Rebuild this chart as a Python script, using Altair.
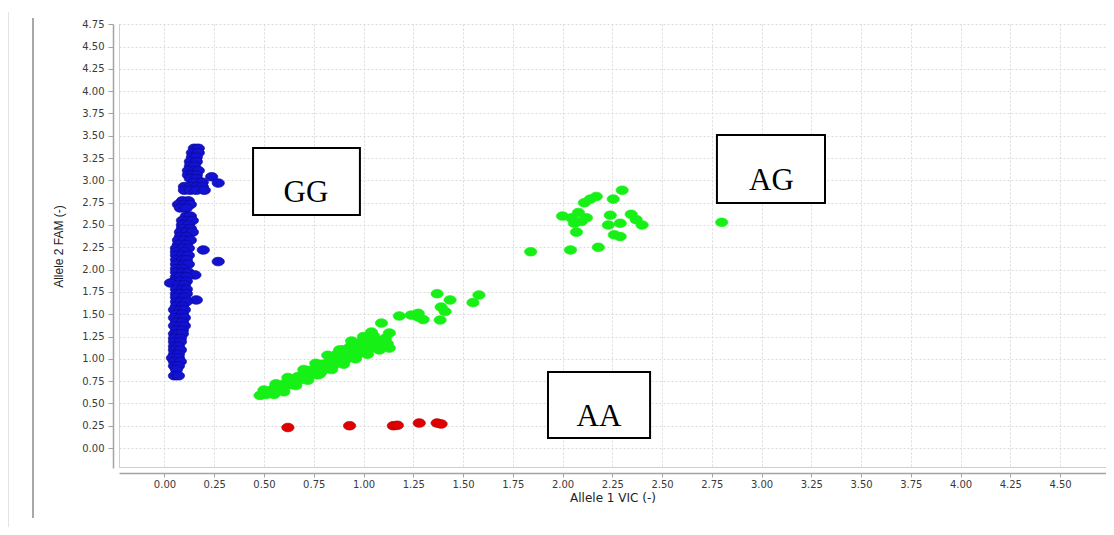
import altair as alt
import pandas as pd

# ---------------- data ----------------
# GG cluster (blue): rows of (Allele 2 FAM value, [Allele 1 VIC values])
gg_rows = [
    (3.36, [0.15, 0.17]), (3.31, [0.14, 0.17]), (3.26, [0.14, 0.16]),
    (3.21, [0.13, 0.16]), (3.16, [0.13, 0.15]), (3.11, [0.12, 0.15, 0.17]),
    (3.06, [0.12, 0.14, 0.16]), (3.02, [0.13, 0.16]), (3.04, [0.237]),
    (2.97, [0.27]), (2.98, [0.15, 0.19]), (2.93, [0.10, 0.13, 0.16, 0.19]),
    (2.89, [0.10, 0.13, 0.16, 0.20]), (2.77, [0.09, 0.12]),
    (2.73, [0.07, 0.10, 0.13]), (2.69, [0.08, 0.11]), (2.60, [0.11, 0.13]),
    (2.55, [0.09, 0.12, 0.14]), (2.50, [0.09, 0.12]), (2.46, [0.09, 0.13]),
    (2.42, [0.08, 0.11, 0.14]), (2.37, [0.08, 0.11]), (2.33, [0.07, 0.10, 0.13]),
    (2.28, [0.07, 0.11]), (2.24, [0.06, 0.09, 0.12]), (2.22, [0.195]),
    (2.20, [0.06, 0.10]), (2.16, [0.06, 0.09, 0.12]), (2.11, [0.06, 0.09, 0.11]),
    (2.09, [0.27]), (2.06, [0.06, 0.10, 0.12]), (2.01, [0.06, 0.09]),
    (1.97, [0.06, 0.09, 0.12]), (1.94, [0.153]), (1.92, [0.06, 0.08, 0.11]),
    (1.87, [0.05, 0.08, 0.11]), (1.85, [0.03]), (1.83, [0.07, 0.10]),
    (1.78, [0.06, 0.09, 0.11]), (1.73, [0.06, 0.08, 0.11]), (1.69, [0.06, 0.10]),
    (1.66, [0.16]), (1.64, [0.06, 0.08, 0.11]), (1.59, [0.06, 0.09]),
    (1.55, [0.05, 0.08, 0.10]), (1.50, [0.06, 0.09]), (1.46, [0.05, 0.08, 0.10]),
    (1.41, [0.06, 0.09]), (1.37, [0.05, 0.08, 0.10]), (1.32, [0.06, 0.09]),
    (1.28, [0.05, 0.07, 0.09]), (1.23, [0.05, 0.08]), (1.19, [0.05, 0.08]),
    (1.14, [0.05, 0.07]), (1.10, [0.05, 0.08]), (1.05, [0.05, 0.07]),
    (1.01, [0.04, 0.07]), (0.97, [0.05, 0.08]), (0.92, [0.05, 0.07]),
    (0.88, [0.06]), (0.81, [0.05, 0.07]),
]

# heterozygous / green cluster
green_x = [0.48, 0.51, 0.50, 0.53, 0.55, 0.57, 0.58, 0.60, 0.61, 0.63, 0.64, 0.66,
           0.67, 0.69, 0.70, 0.72, 0.73, 0.75, 0.77, 0.77, 0.79, 0.80, 0.82, 0.83,
           0.85, 0.86, 0.87, 0.88, 0.89, 0.90, 0.91, 0.92, 0.93, 0.94, 0.95, 0.96,
           0.97, 0.98, 0.99, 1.00, 1.01, 1.02, 1.03, 1.04, 1.05, 1.06, 1.07, 1.09,
           1.09, 1.11, 1.12, 1.13, 1.13, 1.18, 1.24, 1.275, 1.275, 1.30, 1.385,
           1.37, 1.435, 1.39, 1.41, 1.55, 1.58,
           0.56, 0.62, 0.70, 0.76, 0.82, 0.88, 0.94, 1.00, 1.04,
           0.55, 0.60, 0.66, 0.72, 0.78, 0.84, 0.90, 0.96, 1.02, 1.08,
           1.84, 2.04, 2.18, 2.07, 2.00, 2.045, 2.08, 2.095, 2.12, 2.06, 2.11, 2.14,
           2.17, 2.255, 2.30, 2.24, 2.23, 2.29, 2.26, 2.29, 2.345, 2.37, 2.40, 2.80]
green_y = [0.59, 0.60, 0.65, 0.63, 0.67, 0.64, 0.70, 0.68, 0.73, 0.71, 0.77, 0.74,
           0.80, 0.77, 0.84, 0.80, 0.87, 0.83, 0.82, 0.90, 0.86, 0.94, 0.90, 0.97,
           0.93, 1.00, 1.06, 0.97, 1.03, 1.10, 0.99, 1.06, 1.13, 1.02, 1.09, 1.16,
           1.05, 1.12, 1.19, 1.08, 1.15, 1.22, 1.11, 1.18, 1.26, 1.14, 1.21, 1.17,
           1.40, 1.23, 1.17, 1.29, 1.12, 1.48, 1.49, 1.51, 1.47, 1.44, 1.435,
           1.73, 1.66, 1.58, 1.53, 1.63, 1.715,
           0.72, 0.79, 0.88, 0.95, 1.04, 1.10, 1.20, 1.25, 1.30,
           0.60, 0.63, 0.70, 0.76, 0.83, 0.88, 0.94, 1.00, 1.05, 1.10,
           2.20, 2.22, 2.25, 2.42, 2.60, 2.58, 2.64, 2.54, 2.58, 2.52, 2.75, 2.79,
           2.82, 2.79, 2.89, 2.61, 2.50, 2.52, 2.39, 2.37, 2.62, 2.56, 2.50, 2.53]

# AA cluster (red)
aa_x = [0.62, 0.93, 1.15, 1.17, 1.28, 1.37, 1.39]
aa_y = [0.23, 0.25, 0.25, 0.255, 0.28, 0.28, 0.27]

# annotation boxes (data units) and their labels
box_names = ["GG", "AG", "AA"]
box_x0 = [0.445, 2.776, 1.927]
box_x1 = [0.982, 3.319, 2.440]
box_y0 = [2.612, 2.747, 0.112]
box_y1 = [3.363, 3.509, 0.852]
label_x = [0.711, 3.050, 2.183]
label_y = [2.758, 2.892, 0.252]

x_ticks = [i * 0.25 for i in range(19)]
y_ticks = [i * 0.25 for i in range(20)]
X_DOMAIN = [-0.2286, 4.731]
Y_DOMAIN = [-0.224, 4.753]

# ---------------- tables ----------------
rows = []
for yv, xs_ in gg_rows:
    for xv in xs_:
        rows.append({"x": xv, "y": yv, "g": "GG"})
for xv, yv in zip(green_x, green_y):
    rows.append({"x": xv, "y": yv, "g": "AG"})
for xv, yv in zip(aa_x, aa_y):
    rows.append({"x": xv, "y": yv, "g": "AA"})
pts = pd.DataFrame(rows)

boxes = pd.DataFrame({"name": box_names, "x0": box_x0, "x1": box_x1,
                      "y0": box_y0, "y1": box_y1,
                      "lx": label_x, "ly": label_y})

W, H = 987, 444

grid_kw = dict(grid=True, gridDash=[2, 2], gridColor="#dadada", gridWidth=1,
               domainColor="#a3a3a3", domainWidth=1.5, tickColor="#a3a3a3",
               labelFont="DejaVu Sans", labelFontSize=10, labelColor="#3a3a3a",
               titleFontWeight="normal", titleColor="#222222", format=".2f",
               labelFlush=False)

x_axis = alt.Axis(values=x_ticks, offset=5, tickSize=4, labelPadding=2,
                  title="Allele 1 VIC (-)", titleFont="DejaVu Sans",
                  titleFontSize=12, titlePadding=3, **grid_kw)
y_axis = alt.Axis(values=y_ticks, offset=6, tickSize=5, labelPadding=4,
                  title="Allele 2 FAM (-)", titleFont="Liberation Sans",
                  titleFontSize=12, titlePadding=16, **grid_kw)

xs = alt.Scale(domain=X_DOMAIN, nice=False, zero=False)
ys = alt.Scale(domain=Y_DOMAIN, nice=False, zero=False)

ELLIPSE = ("M-1,0 C-1,-0.3866 -0.5523,-0.7 0,-0.7 C0.5523,-0.7 1,-0.3866 1,0 "
           "C1,0.3866 0.5523,0.7 0,0.7 C-0.5523,0.7 -1,0.3866 -1,0 Z")

points = alt.Chart(pts).mark_point(shape=ELLIPSE, size=150, filled=True,
                                   opacity=1, strokeWidth=0.7).encode(
    x=alt.X("x:Q", scale=xs, axis=x_axis),
    y=alt.Y("y:Q", scale=ys, axis=y_axis),
    fill=alt.Fill("g:N", scale=alt.Scale(domain=["GG", "AG", "AA"],
                                         range=["#1212d0", "#16f016", "#e00000"]),
                  legend=None),
    stroke=alt.Stroke("g:N", scale=alt.Scale(domain=["GG", "AG", "AA"],
                                             range=["#0a0a9e", "#16f016", "#b00000"]),
                      legend=None),
)

rects = alt.Chart(boxes).mark_rect(fill="white", stroke="black", strokeWidth=2).encode(
    x=alt.X("x0:Q", scale=xs, axis=x_axis), x2="x1:Q",
    y=alt.Y("y0:Q", scale=ys, axis=y_axis), y2="y1:Q",
)

labels = alt.Chart(boxes).mark_text(font="Liberation Serif", fontSize=31,
                                    baseline="alphabetic", align="center",
                                    color="black").encode(
    x=alt.X("lx:Q", scale=xs, axis=x_axis),
    y=alt.Y("ly:Q", scale=ys, axis=y_axis),
    text="name:N",
)

# plot frame (left & bottom) and page decorations
frame_left = alt.Chart(pts).mark_rule(color="#cfcfcf", strokeWidth=1).encode(
    x=alt.value(0.5), y=alt.value(0), y2=alt.value(H))
frame_bottom = alt.Chart(pts).mark_rule(color="#cfcfcf", strokeWidth=1).encode(
    x=alt.value(0), x2=alt.value(W), y=alt.value(H - 0.5))
side_line = alt.Chart(pts).mark_rule(color="#a8a8a8", strokeWidth=2).encode(
    x=alt.value(-86), y=alt.value(-6), y2=alt.value(494))
edge_line = alt.Chart(pts).mark_rule(color="#e4e4e4", strokeWidth=1).encode(
    x=alt.value(-110.5), y=alt.value(-12), y2=alt.value(503))

chart = alt.layer(frame_left, frame_bottom, side_line, edge_line,
                  points, rects, labels).properties(
    width=W, height=H,
    autosize=alt.AutoSizeParams(type="none"),
    padding={"left": 111, "top": 16, "right": 0, "bottom": 59},
    background="white",
).configure_view(stroke=None)

chart.save("out.html", embed_options={"renderer": "svg", "actions": False})
